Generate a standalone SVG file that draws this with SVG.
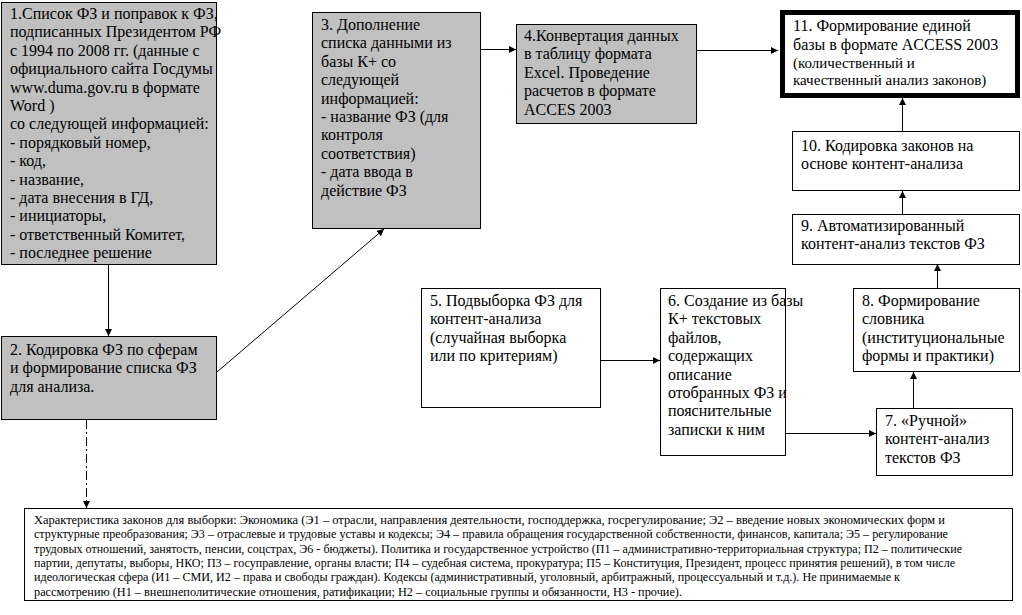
<svg xmlns="http://www.w3.org/2000/svg" width="1022" height="615" viewBox="0 0 1022 615">
<style>
.g{fill:#c0c0c0;stroke:#000;stroke-width:1}
.w{fill:#fff;stroke:#000;stroke-width:1}
.t{font-family:"Liberation Serif","Times New Roman",serif;font-size:16px;fill:#000}
.m{font-size:15px}
.s{font-family:"Liberation Serif","Times New Roman",serif;font-size:12px;fill:#000}
.c{stroke:#000;stroke-width:1;fill:none}
</style>
<defs>
<marker id="ah" viewBox="0 0 10 10" refX="10" refY="5" markerWidth="7" markerHeight="7" markerUnits="userSpaceOnUse" orient="auto">
<path d="M0,0 L10,5 L0,10 Z" fill="#000"/>
</marker>
</defs>
<rect width="1022" height="615" fill="#fff"/>
<g id="connectors">
<line class="c" x1="108.5" y1="264" x2="108.5" y2="336" marker-end="url(#ah)"/>
<line class="c" x1="217" y1="372" x2="384" y2="229" stroke-width="0.8" marker-end="url(#ah)"/>
<line class="c" x1="481" y1="49.5" x2="516" y2="49.5" marker-end="url(#ah)"/>
<line class="c" x1="697" y1="50.5" x2="778" y2="50.5" marker-end="url(#ah)"/>
<line class="c" x1="601" y1="360.5" x2="660" y2="360.5" marker-end="url(#ah)"/>
<line class="c" x1="785" y1="433.5" x2="876" y2="433.5" marker-end="url(#ah)"/>
<line class="c" x1="913.5" y1="408" x2="913.5" y2="372" marker-end="url(#ah)"/>
<line class="c" x1="937.5" y1="288" x2="937.5" y2="264" marker-end="url(#ah)"/>
<line class="c" x1="902.5" y1="214" x2="902.5" y2="191" marker-end="url(#ah)"/>
<line class="c" x1="902.5" y1="131" x2="902.5" y2="98" marker-end="url(#ah)"/>
<line class="c" x1="86.5" y1="420" x2="86.5" y2="508" stroke-dasharray="9,3,2,3" marker-end="url(#ah)"/>
</g>
<g id="n1">
<rect class="g" x="1.5" y="2.5" width="215" height="262"/>
<text class="t"><tspan x="10" y="19">1.Список ФЗ и поправок к ФЗ,</tspan><tspan x="10" y="37.4">подписанных Президентом РФ</tspan><tspan x="10" y="55.8">с 1994 по 2008 гг. (данные с</tspan><tspan x="10" y="74.2">официального сайта Госдумы</tspan><tspan x="10" y="92.6">www.duma.gov.ru в формате</tspan><tspan x="10" y="111">Word )</tspan><tspan x="10" y="129.4">со следующей информацией:</tspan><tspan x="10" y="147.8">- порядковый номер,</tspan><tspan x="10" y="166.2">- код,</tspan><tspan x="10" y="184.6">- название,</tspan><tspan x="10" y="203">- дата внесения в ГД,</tspan><tspan x="10" y="221.4">- инициаторы,</tspan><tspan x="10" y="239.8">- ответственный Комитет,</tspan><tspan x="10" y="258.2">- последнее решение</tspan></text>
</g>
<g id="n2">
<rect class="g" x="1.5" y="336.5" width="215" height="83"/>
<text class="t"><tspan x="10" y="355">2. Кодировка ФЗ по сферам</tspan><tspan x="10" y="373.4">и формирование списка ФЗ</tspan><tspan x="10" y="391.8">для анализа.</tspan></text>
</g>
<g id="n3">
<rect class="g" x="312.5" y="12.5" width="168" height="216"/>
<text class="t"><tspan x="321" y="30">3. Дополнение</tspan><tspan x="321" y="48.4">списка данными из</tspan><tspan x="321" y="66.8">базы К+ со</tspan><tspan x="321" y="85.2">следующей</tspan><tspan x="321" y="103.6">информацией:</tspan><tspan x="321" y="122">- название ФЗ  (для</tspan><tspan x="321" y="140.4">контроля</tspan><tspan x="321" y="158.8">соответствия)</tspan><tspan x="321" y="177.2">- дата ввода в</tspan><tspan x="321" y="195.6">действие ФЗ</tspan></text>
</g>
<g id="n4">
<rect class="g" x="516.5" y="24.5" width="180" height="99"/>
<text class="t"><tspan x="524" y="41">4.Конвертация данных</tspan><tspan x="524" y="59.4">в таблицу формата</tspan><tspan x="524" y="77.8">Excel. Проведение</tspan><tspan x="524" y="96.2">расчетов  в формате</tspan><tspan x="524" y="114.6">ACCES 2003</tspan></text>
</g>
<g id="n11">
<rect x="782.5" y="12.5" width="235" height="83" fill="#fff" stroke="#000" stroke-width="5"/>
<text class="t"><tspan x="793" y="31">11. Формирование единой</tspan><tspan x="793" y="50">базы в формате ACCESS 2003</tspan><tspan class="m" x="793" y="68">(количественный и</tspan><tspan class="m" x="793" y="85">качественный анализ законов)</tspan></text>
</g>
<g id="n10">
<rect class="w" x="792.5" y="131.5" width="227" height="59"/>
<text class="t"><tspan x="801" y="151">10. Кодировка законов на</tspan><tspan x="801" y="169.4">основе контент-анализа</tspan></text>
</g>
<g id="n9">
<rect class="w" x="792.5" y="214.5" width="227" height="50"/>
<text class="t"><tspan x="801" y="231">9. Автоматизированный</tspan><tspan x="801" y="249.4">контент-анализ текстов ФЗ</tspan></text>
</g>
<g id="n8">
<rect class="w" x="853.5" y="288.5" width="166" height="83"/>
<text class="t"><tspan x="862" y="306">8. Формирование</tspan><tspan x="862" y="324.4">словника</tspan><tspan x="862" y="342.8">(институциональные</tspan><tspan x="862" y="361.2">формы и практики)</tspan></text>
</g>
<g id="n7">
<rect class="w" x="876.5" y="408.5" width="136" height="67"/>
<text class="t"><tspan x="885" y="426">7. «Ручной»</tspan><tspan x="885" y="444.4">контент-анализ</tspan><tspan x="885" y="462.8">текстов ФЗ</tspan></text>
</g>
<g id="n5">
<rect class="w" x="421.5" y="288.5" width="179" height="119"/>
<text class="t"><tspan x="430" y="306">5. Подвыборка ФЗ для</tspan><tspan x="430" y="324.4">контент-анализа</tspan><tspan x="430" y="342.8">(случайная выборка</tspan><tspan x="430" y="361.2">или по критериям)</tspan></text>
</g>
<g id="n6">
<rect class="w" x="660.5" y="288.5" width="125" height="167"/>
<text class="t"><tspan x="668" y="306">6. Создание из базы</tspan><tspan x="668" y="324.4">К+ текстовых</tspan><tspan x="668" y="342.8">файлов,</tspan><tspan x="668" y="361.2">содержащих</tspan><tspan x="668" y="379.6">описание</tspan><tspan x="668" y="398">отобранных ФЗ и</tspan><tspan x="668" y="416.4">пояснительные</tspan><tspan x="668" y="434.8">записки к ним</tspan></text>
</g>
<g id="n12">
<rect class="w" x="24.5" y="508.5" width="988" height="92"/>
<text class="s"><tspan x="34" y="524" textLength="911" lengthAdjust="spacingAndGlyphs">Характеристика законов для выборки: Экономика (Э1 – отрасли, направления деятельности, господдержка, госрегулирование; Э2 – введение новых экономических форм и</tspan><tspan x="34" y="538.3" textLength="914" lengthAdjust="spacingAndGlyphs">структурные преобразования; Э3 – отраслевые и трудовые уставы и кодексы; Э4 – правила обращения государственной собственности, финансов, капитала; Э5 – регулирование</tspan><tspan x="34" y="552.6" textLength="928" lengthAdjust="spacingAndGlyphs">трудовых отношений, занятость, пенсии, соцстрах, Э6 - бюджеты). Политика и государственное устройство (П1 – административно-территориальная структура; П2 – политические</tspan><tspan x="34" y="566.9" textLength="921" lengthAdjust="spacingAndGlyphs">партии, депутаты, выборы, НКО; П3 – госуправление, органы власти; П4 – судебная система, прокуратура; П5 – Конституция, Президент, процесс принятия решений), в том числе</tspan><tspan x="34" y="581.2" textLength="866" lengthAdjust="spacingAndGlyphs">идеологическая сфера (И1 – СМИ, И2 – права и свободы граждан).  Кодексы (административный, уголовный, арбитражный, процессуальный и т.д.). Не принимаемые к</tspan><tspan x="34" y="595.5" textLength="648" lengthAdjust="spacingAndGlyphs">рассмотрению (Н1 – внешнеполитические отношения, ратификации; Н2 – социальные группы и обязанности,  Н3 - прочие).</tspan></text>
</g>
</svg>
